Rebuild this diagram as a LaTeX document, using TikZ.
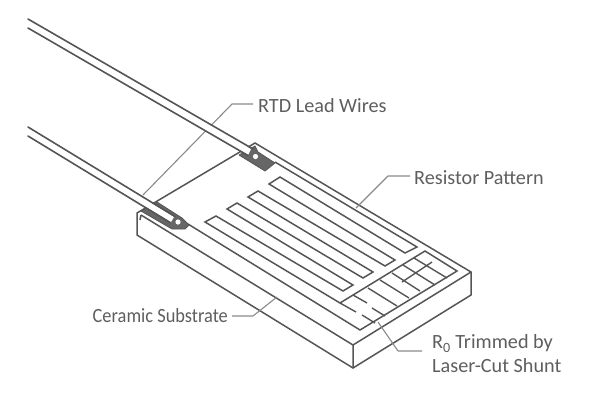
\documentclass[tikz,border=0pt]{standalone}
\usepackage{fontspec}
\setmainfont{Carlito}
\definecolor{ink}{HTML}{555555}
\definecolor{lead}{HTML}{8A8A8A}
\definecolor{txt}{HTML}{5E5E5E}
\tikzset{
 body/.style={draw=ink,line width=1.5pt,line join=miter,fill=white},
 film/.style={draw=ink,line width=1.5pt,line join=miter},
 slit/.style={draw=ink,line width=1.4pt},
 padshape/.style={fill=ink!90!white,draw=ink,line width=.8pt,line join=round},
 wire/.style={draw=ink,line width=1.6pt,line cap=round},
 leader/.style={draw=lead,line width=1.1pt,line join=round},
 lab/.style={font=\fontsize{20.2}{24}\selectfont,text=txt,inner sep=0pt,align=left,anchor=west}
}
\begin{document}
\begin{tikzpicture}[x=1pt,y=-1pt]
\useasboundingbox (0,0) rectangle (600,400);
% substrate
\coordinate (sL) at (137,213); \coordinate (sLb) at (137,235);
\coordinate (sLi) at (141,215);
\coordinate (sF) at (353,345); \coordinate (sFb) at (353,368);
\coordinate (sR) at (471,272); \coordinate (sRb) at (471,295);
\coordinate (sB) at (255,143);
\path[body] (sL)--(sB)--(sR)--(sRb)--(sFb)--(sLb)--cycle;
\draw[film] (sLi)--(sF)--(sR) (sF)--(sFb) (sLi)--(140,220);
% serpentine
\draw[film] (275,162)--(417,247)--(405,253)--(280,177)--(269,184)--(395,260)--(385,266)--(258,191)--(248,197)--(373,272)--(363,278)--(237,203)--(227,209)--(353,285)--(343,291)--(216,216)--(205,222)--(340,303)--(425,251)--(457,271)--(360,330)--(188,224);
% trim slits
\draw[slit] (340,303)--(356,312) (353,295)--(367,303) (368,288)--(397,306)
 (380,280)--(409,298) (392,273)--(420,291) (403,265)--(435,285) (414,258)--(447,278)
 (402,282)--(432,262) (362,315)--(375,323) (372,308)--(385,316);
% RTD leader behind the wires
\node[lab] (rtd) at (258,106) {RTD Lead Wires};
\coordinate (rtdk) at (232,104);
\coordinate (rtde) at (143,195);
\draw[leader] (rtd.west |- rtdk) ++(-5,0) -- (rtdk) -- (rtde);
% pads
\path[padshape] (141,211)--(157,202)--(182,218)--(189,225)--(185,229)--(172,229)--cycle;
\path[padshape] (239,155)--(255,146)--(258,152)--(275,163)--(265,171)--cycle;
% wires
\fill[white] (28,19)--(251,149)--(248,155)--(28,28)--cycle;
\fill[white] (28,127)--(174,217)--(171,222)--(28,136)--cycle;
\draw[wire] (28,19)--(253,149) (28,28)--(248,155.5);
\draw[wire] (28,127)--(175,216.5) (28,136)--(170,222.5);
\fill[white] (255.5,156.5) circle[radius=2.6];
\fill[white] (178,222) circle[radius=2.6];
% labels and leaders
\node[lab] (res) at (414,178) {Resistor Pattern};
\draw[leader] (res.west |- 0,176) ++(-4,0) -- (388,176) -- (356,208);
\node[lab] (cer) at (92.5,316) {\scalebox{0.91}[1]{Ceramic Substrate}};
\draw[leader] (cer.east |- 0,316) ++(4,0) -- (253,316) -- (277,297);
\node[lab] (ro) at (432,354) {R$_{\mathrm{0}}$ Trimmed by\\Laser-Cut Shunt};
\draw[leader] (ro.west |- 0,351) ++(-10,0) -- (398,351) -- (378,322);
\end{tikzpicture}
\end{document}
